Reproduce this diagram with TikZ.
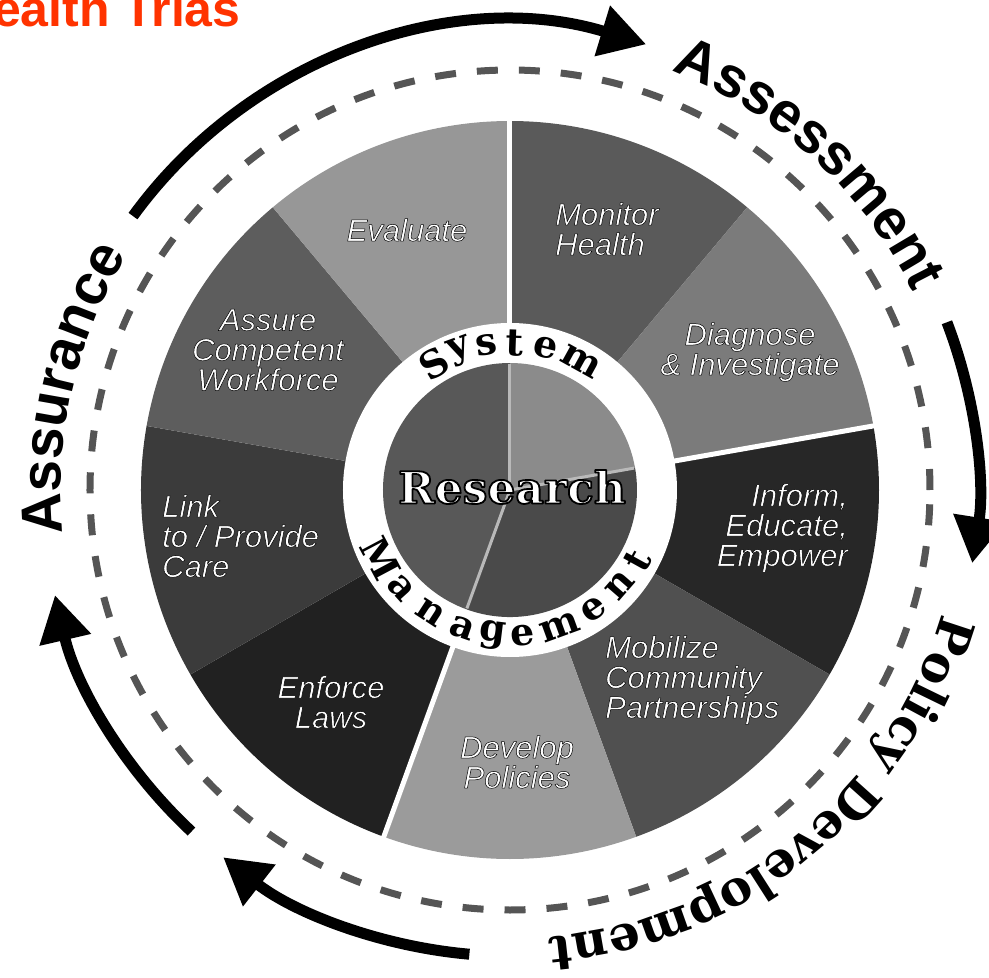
\documentclass[tikz,border=0pt]{standalone}
\usepackage{fontspec}
\setmainfont{Liberation Sans}
\newfontfamily\slabfont{DejaVu Serif}
\usetikzlibrary{arrows.meta, decorations.text}

\definecolor{titlered}{RGB}{255,51,0}
\definecolor{trackgray}{RGB}{85,85,85}
\definecolor{evalc}{RGB}{151,151,151}
\definecolor{monc}{RGB}{90,90,90}
\definecolor{diagc}{RGB}{123,123,123}
\definecolor{infc}{RGB}{39,39,39}
\definecolor{mobc}{RGB}{80,80,80}
\definecolor{devc}{RGB}{155,155,155}
\definecolor{enfc}{RGB}{33,33,33}
\definecolor{linkc}{RGB}{59,59,59}
\definecolor{assc}{RGB}{93,93,93}
\definecolor{resA}{RGB}{139,139,139}
\definecolor{resB}{RGB}{88,88,88}
\definecolor{resC}{RGB}{74,74,74}

% white lettering with a dark rim (fill + stroke render mode)
\newcommand{\rim}[2]{{\color{white}\special{pdf:literal direct 0 G #1 w 1 j 2 Tr}#2\special{pdf:literal direct 0 Tr}}}
\newcommand{\shd}[1]{\rim{0.5}{#1}}
\newcommand{\bigsans}{\bfseries\fontsize{57}{57}\selectfont}
\newcommand{\bigslab}{\slabfont\bfseries\fontsize{49}{49}\selectfont}

\begin{document}
\begin{tikzpicture}[
    x=1pt, y=1pt,
    sepline/.style={white, line width=5pt},
    innersep/.style={gray!55, line width=3pt},
    cyclearrow/.style={line width=11pt, -{Triangle[length=46pt, width=50pt]}},
    track/.style={draw=trackgray, line width=7pt, dash pattern=on 21pt off 21pt},
    service/.style={font=\itshape\fontsize{31}{30}\selectfont, inner sep=0pt},
    ringletter/.style={font=\slabfont\bfseries\fontsize{38}{38}\selectfont, inner sep=0pt}
]
\useasboundingbox (-510,-488) rectangle (479,490);
\coordinate (c) at (0,0);

% Title
\node[anchor=base west, inner sep=0pt, text=titlered, font=\bfseries\fontsize{50}{50}\selectfont] (title) at (-517,463) {ealth Trias};

% Dashed track and cycle arrows
\draw[track] (c) circle[radius=420];
\draw[cyclearrow] (144:466) arc[start angle=144, end angle=73, radius=466];
\draw[cyclearrow] (21:468) arc[start angle=21, end angle=-9, radius=468];
\draw[cyclearrow] (-95:466) arc[start angle=-95, end angle=-128, radius=466];
\draw[cyclearrow] (-133:467) arc[start angle=-133, end angle=-167, radius=467];

% Outer words
\path[decorate, decoration={text along path, text align=center, text={|\bigsans|Assessment}}]
    (82:449) arc[start angle=82, end angle=13, radius=449];
\path[decorate, decoration={text along path, text align=center, text={|\bigslab|Policy Development}}]
    (-2:449) arc[start angle=-2, end angle=-99, radius=449];
\path[decorate, decoration={text along path, text align=center, text={|\bigsans|Assurance}}]
    (202:449) arc[start angle=202, end angle=132, radius=449];

% Ten essential services wheel
\foreach \a/\col in {50/monc, 10/diagc, -30/infc, -70/mobc, -110/devc, -150/enfc, -190/linkc, 130/assc, 90/evalc}
    \fill[\col] (c) -- (\a:369) arc[start angle=\a, end angle=\a+40, radius=369] -- cycle;
\foreach \a in {90, 10, 250}
    \draw[sepline] (c) -- (\a:370);

% System management ring
\fill[white] (c) circle[radius=167];
\fill[resA] (c) -- (10:127) arc[start angle=10, end angle=90, radius=127] -- cycle;
\fill[resB] (c) -- (90:127) arc[start angle=90, end angle=250, radius=127] -- cycle;
\fill[resC] (c) -- (250:127) arc[start angle=250, end angle=370, radius=127] -- cycle;
\foreach \a in {90, 10, 250}
    \draw[innersep] (c) -- (\a:126);

\foreach \ch/\a [count=\i] in {S/121, y/110, s/99, t/88, e/76, m/61}
    \node[ringletter, rotate=\a-90] (sys\i) at (\a:147) {\ch};
\foreach \ch/\a [count=\i] in {M/208, a/222, n/237, a/251, g/263, e/275, m/290, e/305, n/319, t/331}
    \node[ringletter, rotate=\a+90] (mgt\i) at (\a:146) {\ch};

\node[inner sep=0pt, font=\slabfont\bfseries\fontsize{44}{44}\selectfont] (research) at (2,3) {\rim{1.8}{Research}};

% Service labels
\node[service, align=center] (evaluate) at (-103,260) {\shd{Evaluate}};
\node[service, align=left, anchor=west] (monitor) at (45,261) {\shd{Monitor}\\\shd{Health}};
\node[service, align=center] (diagnose) at (240,138) {\shd{Diagnose}\\\shd{\& Investigate}};
\node[service, align=right, anchor=east] (inform) at (338,-38) {\shd{Inform,}\\\shd{Educate,}\\\shd{Empower}};
\node[service, align=left, anchor=west] (mobilize) at (95,-190) {\shd{Mobilize}\\\shd{Community}\\\shd{Partnerships}};
\node[service, align=center] (develop) at (7,-272) {\shd{Develop}\\\shd{Policies}};
\node[service, align=center] (enforce) at (-179,-212) {\shd{Enforce}\\\shd{Laws}};
\node[service, align=left, anchor=west] (link) at (-348,-46) {\shd{Link}\\\shd{to / Provide}\\\shd{Care}};
\node[service, align=center] (assure) at (-242,140) {\shd{Assure}\\\shd{Competent}\\\shd{Workforce}};

\end{tikzpicture}
\end{document}
